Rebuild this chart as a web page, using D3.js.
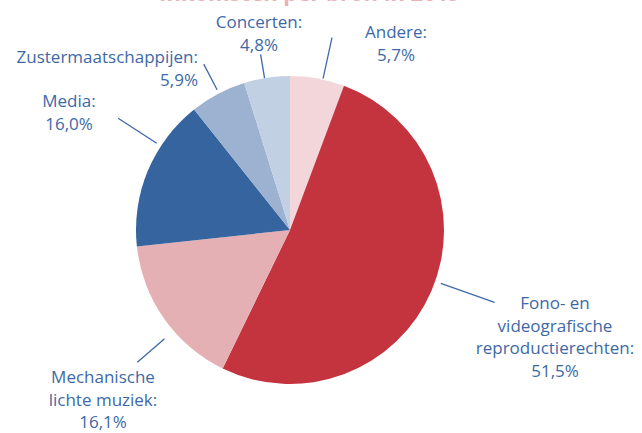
<!DOCTYPE html>
<html>
<head>
<meta charset="utf-8">
<script src="https://cdn.jsdelivr.net/npm/d3@7"></script>
<style>
  html, body { margin: 0; padding: 0; background: #fff; }
  svg { display: block; }
  text { font-family: "Open Sans", Lato, sans-serif; }
</style>
</head>
<body>
<svg id="chart" width="642" height="433"></svg>
<script>
// ---- data ----
const categories = ["Andere", "Fono- en videografische reproductierechten", "Mechanische lichte muziek", "Media", "Zustermaatschappijen", "Concerten"];
const values = [5.7, 51.5, 16.1, 16.0, 5.9, 4.8];
const labelLines = [
  ["Andere:", "5,7%"],
  ["Fono- en", "videografische", "reproductierechten:", "51,5%"],
  ["Mechanische", "lichte muziek:", "16,1%"],
  ["Media:", "16,0%"],
  ["Zustermaatschappijen:", "5,9%"],
  ["Concerten:", "4,8%"]
];
const colors = ["#f2d6d9", "#c4343f", "#e5b0b3", "#35649f", "#9db2d0", "#c2d0e3"];
const titleText = "Inkomsten per bron in 2019";

// ---- layout (positions, not data) ----
const W = 642, H = 433;
const cx = 290, cy = 230, R = 154;
const textColor = "#3d69a7";
// leader: fraction within slice, start radius, end radius ; label: anchor x, first baseline y, text-anchor
const layout = [
  { t: 0.6,  r0: R + 1, r1: R + 43, lx: 396, ly: 38, anchor: "middle" },
  { t: 0.48, r0: R + 6, r1: R + 63, lx: 555, ly: 309, anchor: "middle" },
  { t: 0.40, r0: R + 12, r1: R + 48, lx: 103, ly: 383, anchor: "middle" },
  { t: 0.68, r0: R + 5, r1: R + 51, lx: 69, ly: 107, anchor: "middle" },
  { t: 0.52, r0: R + 4, r1: R + 33, lx: 198, ly: 63, anchor: "end" },
  { t: 0.45, r0: R, r1: R + 24, lx: 259, ly: 28, anchor: "middle" }
];
const lineH = 22.5;

const svg = d3.select("#chart");

// partially visible title at the very top (cut off, as in the reference)
svg.append("text")
  .attr("x", 310).attr("y", 0.5)
  .attr("text-anchor", "middle")
  .attr("font-size", 22)
  .attr("font-weight", 700)
  .attr("fill", "#eab0b6")
  .text(titleText);

const pie = d3.pie().value(d => d).sort(null);
const arcs = pie(values);
const arc = d3.arc().innerRadius(0).outerRadius(R);

const g = svg.append("g").attr("transform", `translate(${cx},${cy})`);
g.selectAll("path.slice")
  .data(arcs)
  .join("path")
  .attr("class", "slice")
  .attr("d", arc)
  .attr("fill", (d, i) => colors[i]);

// leaders
arcs.forEach((a, i) => {
  const L = layout[i];
  const ang = a.startAngle + (a.endAngle - a.startAngle) * L.t;
  const p = r => [r * Math.sin(ang), -r * Math.cos(ang)];
  const [x0, y0] = p(L.r0), [x1, y1] = p(L.r1);
  g.append("line")
    .attr("x1", x0).attr("y1", y0).attr("x2", x1).attr("y2", y1)
    .attr("stroke", textColor).attr("stroke-width", 1.3);
});

// labels
labelLines.forEach((lines, i) => {
  const L = layout[i];
  const t = svg.append("text")
    .attr("text-anchor", L.anchor)
    .attr("font-size", 17)
    .attr("fill", textColor);
  lines.forEach((s, k) => {
    t.append("tspan").attr("x", L.lx).attr("y", L.ly + k * lineH).text(s);
  });
});
</script>
</body>
</html>
